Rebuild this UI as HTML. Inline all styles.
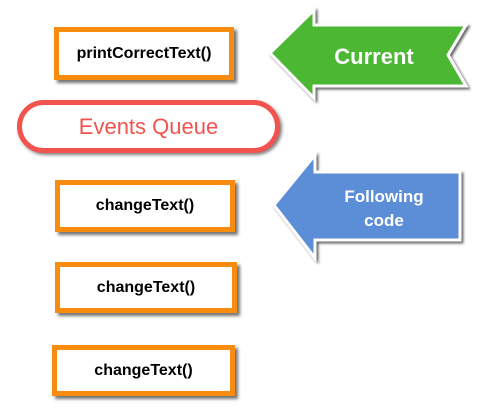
<!DOCTYPE html>
<html><head><style>
body{margin:0;width:500px;height:413px;background:#fff;overflow:hidden;position:relative;font-family:"Liberation Sans",sans-serif}
.b{position:absolute;box-sizing:border-box;border:5px solid #f98c0e;background:#fff;box-shadow:3px 3px 3px rgba(0,0,0,.55);display:flex;align-items:center;justify-content:center;font-weight:bold;font-size:16px;color:#000}
.p{position:absolute;left:17px;top:100px;width:263px;height:53px;box-sizing:border-box;border:5px solid #f2534f;border-radius:27px;background:#fff;box-shadow:2px 2px 3px rgba(0,0,0,.5);display:flex;align-items:center;justify-content:center;color:#f2534f;font-size:22px}
</style></head><body>
<div class="b" style="left:54px;top:27px;width:180px;height:53px">printCorrectText()</div>
<div class="p">Events Queue</div>
<div class="b" style="left:55px;top:180px;width:180px;height:52px">changeText()</div>
<div class="b" style="left:55px;top:262px;width:182px;height:51px">changeText()</div>
<div class="b" style="left:52px;top:345px;width:183px;height:51px">changeText()</div>
<svg width="500" height="413" style="position:absolute;left:0;top:0">
<defs><filter id="s" x="-10%" y="-10%" width="130%" height="130%"><feDropShadow dx="2" dy="2" stdDeviation="1.2" flood-color="#000" flood-opacity=".6"/></filter></defs>
<polygon points="270,53 314,10 314,25 466,25 448,55 466,86 314,86 314,98" fill="#4cb733" stroke="#fff" stroke-width="3" filter="url(#s)"/>
<polygon points="274,205 315,155 315,172 460,172 460,240 315,240 315,258" fill="#5b8ed8" stroke="#fff" stroke-width="3" filter="url(#s)"/>
<text x="374" y="64" fill="#fff" font-family="Liberation Sans" font-weight="bold" font-size="22" text-anchor="middle">Current</text>
<text x="384" y="202" fill="#fff" font-family="Liberation Sans" font-weight="bold" font-size="17" text-anchor="middle">Following</text>
<text x="384" y="226" fill="#fff" font-family="Liberation Sans" font-weight="bold" font-size="17" text-anchor="middle">code</text>
</svg>
</body></html>
